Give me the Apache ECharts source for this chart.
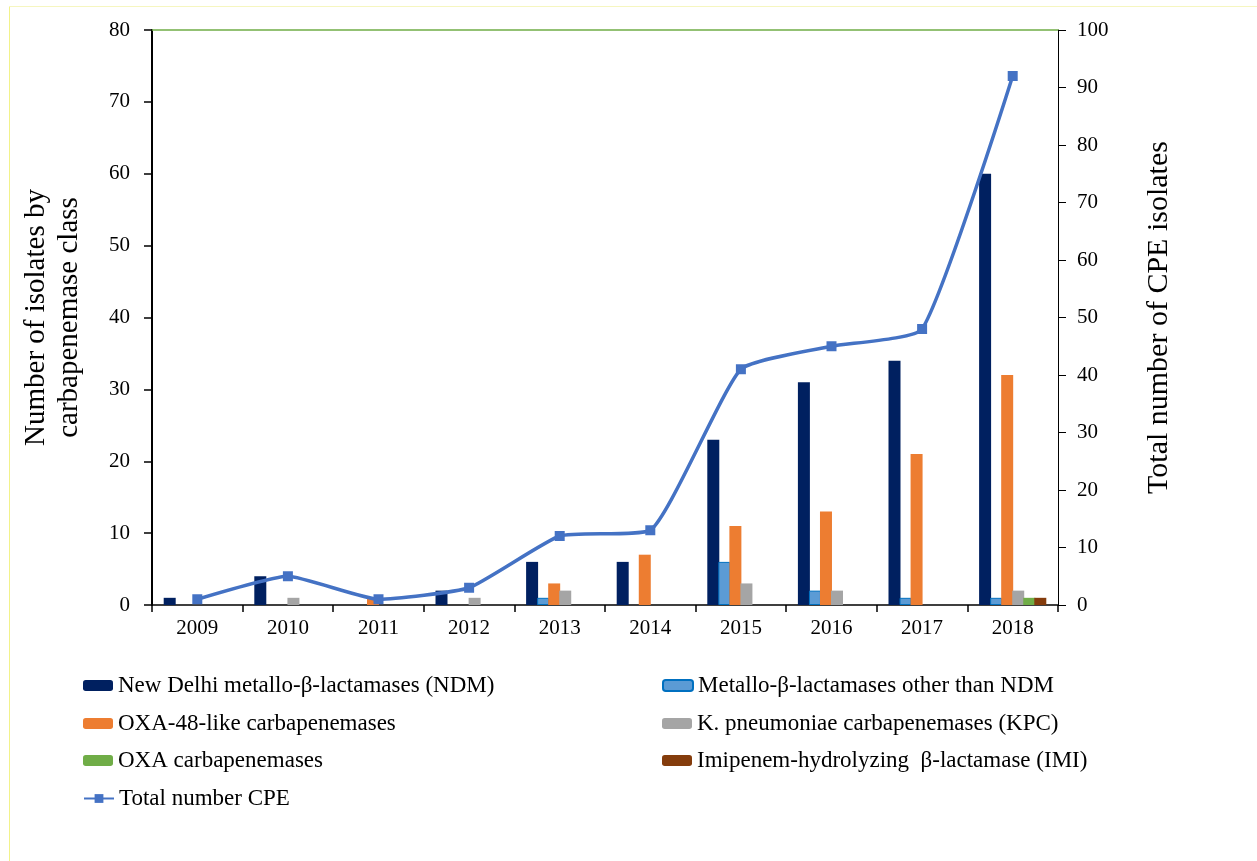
<!DOCTYPE html>
<html>
<head>
<meta charset="utf-8">
<script src="https://cdn.jsdelivr.net/npm/echarts@6/dist/echarts.min.js"></script>
<style>html,body{margin:0;padding:0;background:#fff;}#c{width:1257px;height:861px;}</style>
</head>
<body>
<div id="c"></div>
<script>
const years = ['2009','2010','2011','2012','2013','2014','2015','2016','2017','2018'];
const ndm   = [1,4,0,2,6,6,23,31,34,60];
const mbl   = [0,0,0,0,1,0,6,2,1,1];
const oxa48 = [0,0,1,0,3,7,11,13,21,32];
const kpc   = [0,1,0,1,2,0,3,2,0,2];
const oxa   = [0,0,0,0,0,0,0,0,0,1];
const imi   = [0,0,0,0,0,0,0,0,0,1];
const total = [1,5,1,3,12,13,41,45,48,92];
const leftTicks = [0,80,10];
const rightTicks = [0,100,10];

const FONT = '"Liberation Serif","DejaVu Serif",serif';
const chart = echarts.init(document.getElementById('c'));

function bar(name, data, color, border){
  return {name, type:'bar', data: data.map(v => v === 0 ? '-' : v), xAxisIndex:0, yAxisIndex:0,
    barWidth:12, barGap:'-8%',
    itemStyle:{color, borderColor: border||color, borderWidth: border?1:0}};
}
const legendItems = [
  ['New Delhi metallo-β-lactamases (NDM)', 78, 669],
  ['Metallo-β-lactamases other than NDM', 657, 669],
  ['OXA-48-like carbapenemases', 78, 707],
  ['K. pneumoniae carbapenemases (KPC)', 657, 707],
  ['OXA carbapenemases', 78, 744],
  ['Imipenem-hydrolyzing  β-lactamase (IMI)', 657, 744],
  ['Total number CPE', 78, 782]
];
const legends = legendItems.map(([n,l,t]) => ({
  data:[n], left:l, top:t, itemWidth:30, itemHeight:11, itemGap:4,
  textStyle:{fontFamily:FONT, fontSize:23, color:'#000'},
  selectedMode:false
}));

chart.setOption({
  animation:false,
  backgroundColor:'#fff',
  graphic:[
    {type:'line', shape:{x1:9.5,y1:6,x2:9.5,y2:861}, style:{stroke:'#f2f28a', lineWidth:1}},
    {type:'line', shape:{x1:9,y1:6.5,x2:1257,y2:6.5}, style:{stroke:'#f6f6c0', lineWidth:1}}
  ],
  legend: legends,
  grid:{left:152, right:199, top:30, bottom:256},
  xAxis:[
    {type:'category', data:years, position:'bottom',
     axisLine:{onZero:false, lineStyle:{color:'#000', width:1.5}},
     axisTick:{show:true, length:7, lineStyle:{color:'#000', width:1.5}, alignWithLabel:false},
     axisLabel:{fontFamily:FONT, fontSize:21, color:'#000', margin:13}},
    {type:'category', data:years, position:'top',
     axisLine:{onZero:false, lineStyle:{color:'#70AD47', width:1.5}},
     axisTick:{show:false}, axisLabel:{show:false}}
  ],
  yAxis:[
    {type:'value', min:leftTicks[0], max:leftTicks[1], interval:leftTicks[2], position:'left',
     name:'Number of isolates by\ncarbapenemase class', nameLocation:'middle', nameGap:66, nameRotate:90,
     nameTextStyle:{fontFamily:FONT, fontSize:29, color:'#000', lineHeight:33},
     axisLine:{show:true, onZero:false, lineStyle:{color:'#000', width:2}},
     axisTick:{show:true, length:8, lineStyle:{color:'#000', width:1.5}},
     axisLabel:{fontFamily:FONT, fontSize:21, color:'#000', margin:22},
     splitLine:{show:false}},
    {type:'value', min:rightTicks[0], max:rightTicks[1], interval:rightTicks[2], position:'right',
     name:'Total number of CPE isolates', nameLocation:'middle', nameGap:86, nameRotate:90,
     nameTextStyle:{fontFamily:FONT, fontSize:30, color:'#000'},
     axisLine:{show:true, onZero:false, lineStyle:{color:'#000', width:1}},
     axisTick:{show:true, length:8, lineStyle:{color:'#000', width:1}},
     axisLabel:{fontFamily:FONT, fontSize:21, color:'#000', margin:19},
     splitLine:{show:false}}
  ],
  series:[
    bar('New Delhi metallo-β-lactamases (NDM)', ndm, '#002060'),
    bar('Metallo-β-lactamases other than NDM', mbl, '#5B9BD5', '#0070C0'),
    bar('OXA-48-like carbapenemases', oxa48, '#ED7D31'),
    bar('K. pneumoniae carbapenemases (KPC)', kpc, '#A5A5A5'),
    bar('OXA carbapenemases', oxa, '#70AD47'),
    bar('Imipenem-hydrolyzing  β-lactamase (IMI)', imi, '#843C0C'),
    {name:'Total number CPE', type:'line', data: total, xAxisIndex:0, yAxisIndex:1,
     smooth:0.15, symbol:'rect', symbolSize:10,
     lineStyle:{color:'#4472C4', width:3.5}, itemStyle:{color:'#4472C4'}, z:5}
  ]
});
</script>
</body>
</html>
